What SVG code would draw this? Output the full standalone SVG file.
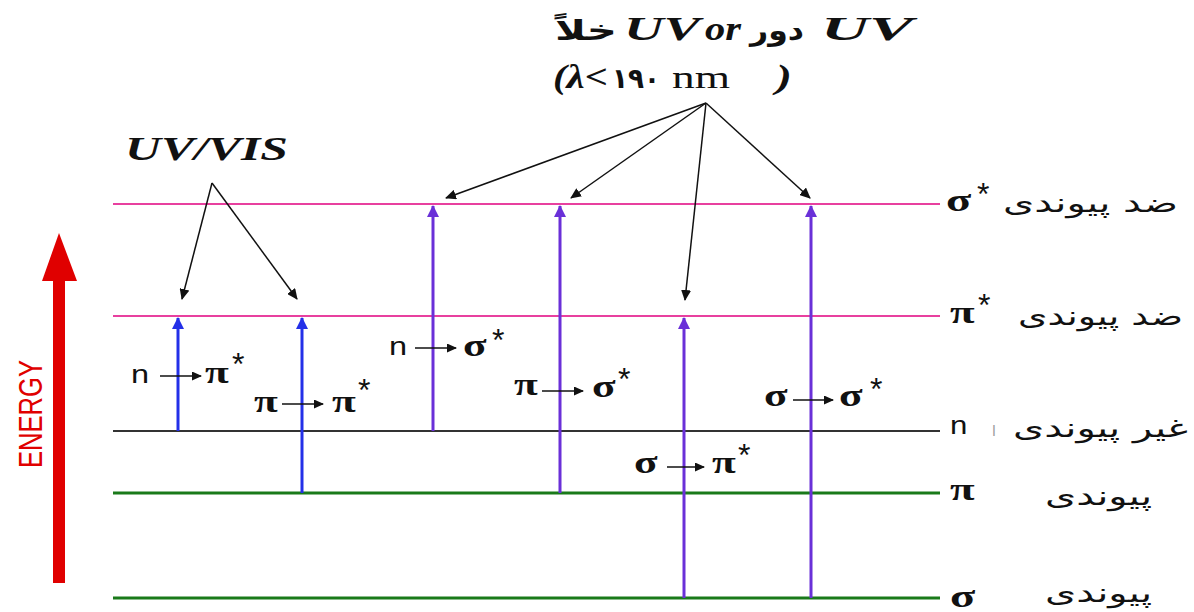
<svg xmlns="http://www.w3.org/2000/svg" width="1194" height="612" viewBox="0 0 1194 612">
<style>
.lvl{stroke-width:2;fill:none}
.pink{stroke:#e8409f}
.blk{stroke:#333}
.grn{stroke:#1a7a1a;stroke-width:3}
.blue{stroke:#2430e8;stroke-width:3;fill:none}
.purp{stroke:#6a30d8;stroke-width:3;fill:none}
.call{stroke:#111;stroke-width:1.5;fill:none}
.sym{font-family:"Liberation Serif",serif;font-weight:bold;font-size:31px;fill:#111}
.nn{font-family:"Liberation Sans",sans-serif;font-size:26px;fill:#111}
.star{font-family:"Liberation Sans",sans-serif;font-size:32px;fill:#111}
.fa{font-family:"DejaVu Sans",sans-serif;font-size:26px;fill:#111}
.ttl{font-family:"Liberation Serif",serif;font-weight:bold;font-style:italic;font-size:33px;fill:#111}
.fab{font-family:"DejaVu Sans",sans-serif;font-weight:bold;font-size:28px;fill:#111}
</style>
<defs>
<marker id="mb" markerUnits="userSpaceOnUse" markerWidth="12" markerHeight="12" refX="11" refY="6" orient="auto"><path d="M0,0 L12,6 L0,12 z" fill="#2430e8"/></marker>
<marker id="mp" markerUnits="userSpaceOnUse" markerWidth="12" markerHeight="12" refX="11" refY="6" orient="auto"><path d="M0,0 L12,6 L0,12 z" fill="#6a30d8"/></marker>
<marker id="mk" markerUnits="userSpaceOnUse" markerWidth="11" markerHeight="10" refX="10" refY="5" orient="auto"><path d="M0,0 L11,5 L0,10 z" fill="#111"/></marker>
<marker id="ms" markerUnits="userSpaceOnUse" markerWidth="10" markerHeight="9" refX="9" refY="4.5" orient="auto"><path d="M0,0 L10,4.5 L0,9 z" fill="#111"/></marker>
</defs>
<rect width="1194" height="612" fill="#fff"/>

<g id="energy">
<rect x="53" y="278" width="12" height="305" fill="#e00000"/>
<polygon points="42,281 59,233 77,281" fill="#e00000"/>
<text transform="translate(42,414) rotate(-90)" text-anchor="middle" font-family="'Liberation Sans',sans-serif" font-size="34" fill="#e00000" textLength="108" lengthAdjust="spacingAndGlyphs">ENERGY</text>
</g>

<g id="levels">
<g id="level-sigma-star"><line class="lvl pink" x1="113" y1="204" x2="940" y2="204"/>
<text class="sym" transform="translate(946,211) scale(1.5,1)">σ</text><text class="star" x="977" y="205">*</text>
<text class="fa" x="1003" y="212" textLength="175" lengthAdjust="spacingAndGlyphs">ضد پیوندی</text></g>
<g id="level-pi-star"><line class="lvl pink" x1="113" y1="316" x2="940" y2="316"/>
<text class="sym" transform="translate(950,323) scale(1.45,1)">π</text><text class="star" x="978" y="316">*</text>
<text class="fa" x="1018" y="325" textLength="165" lengthAdjust="spacingAndGlyphs">ضد پیوندی</text></g>
<g id="level-n"><line class="lvl blk" x1="113" y1="431" x2="940" y2="431"/>
<text class="nn" transform="translate(950,434) scale(1.2,1)">n</text>
<text x="992" y="436" font-family="'DejaVu Sans',sans-serif" font-size="14" fill="#999">ا</text>
<text class="fa" x="1013" y="437" textLength="175" lengthAdjust="spacingAndGlyphs">غیر پیوندی</text></g>
<g id="level-pi"><line class="lvl grn" x1="113" y1="493" x2="940" y2="493"/>
<text class="sym" transform="translate(950,500) scale(1.45,1)">π</text>
<text class="fa" x="1045" y="505" textLength="107" lengthAdjust="spacingAndGlyphs">پیوندی</text></g>
<g id="level-sigma"><line class="lvl grn" x1="113" y1="598" x2="940" y2="598"/>
<text class="sym" transform="translate(950,607) scale(1.5,1)">σ</text>
<text class="fa" x="1045" y="602" textLength="107" lengthAdjust="spacingAndGlyphs">پیوندی</text></g>
</g>

<g id="connectors">
<line class="blue" x1="178" y1="431" x2="178" y2="318" marker-end="url(#mb)"/>
<line class="blue" x1="302" y1="493" x2="302" y2="318" marker-end="url(#mb)"/>
<line class="purp" x1="433" y1="431" x2="433" y2="206" marker-end="url(#mp)"/>
<line class="purp" x1="560" y1="493" x2="560" y2="206" marker-end="url(#mp)"/>
<line class="purp" x1="684" y1="598" x2="684" y2="318" marker-end="url(#mp)"/>
<line class="purp" x1="811" y1="598" x2="811" y2="206" marker-end="url(#mp)"/>
<line class="call" x1="212" y1="183" x2="182" y2="299" marker-end="url(#mk)"/>
<line class="call" x1="212" y1="183" x2="297" y2="299" marker-end="url(#mk)"/>
<line class="call" x1="706" y1="103" x2="446" y2="198" marker-end="url(#mk)"/>
<line class="call" x1="706" y1="103" x2="571" y2="198" marker-end="url(#mk)"/>
<line class="call" x1="706" y1="103" x2="685" y2="300" marker-end="url(#mk)"/>
<line class="call" x1="706" y1="103" x2="810" y2="198" marker-end="url(#mk)"/>
</g>

<g id="label-n-pistar">
<text class="nn" transform="translate(131,383) scale(1.25,1)">n</text>
<line class="call" x1="160" y1="376" x2="201" y2="376" stroke-width="2" marker-end="url(#ms)"/>
<text class="sym" transform="translate(205,383) scale(1.4,1)">π</text><text class="star" x="232" y="375">*</text>
</g>
<g id="label-pi-pistar">
<text class="sym" transform="translate(254,412) scale(1.4,1)">π</text>
<line class="call" x1="282" y1="404" x2="323" y2="404" stroke-width="2" marker-end="url(#ms)"/>
<text class="sym" transform="translate(332,412) scale(1.4,1)">π</text><text class="star" x="358" y="401">*</text>
</g>
<g id="label-n-sigmastar">
<text class="nn" transform="translate(389,355) scale(1.25,1)">n</text>
<line class="call" x1="415" y1="348" x2="456" y2="348" stroke-width="2" marker-end="url(#ms)"/>
<text class="sym" transform="translate(463,356) scale(1.4,1)">σ</text><text class="star" x="492" y="351">*</text>
</g>
<g id="label-pi-sigmastar">
<text class="sym" transform="translate(514,395) scale(1.4,1)">π</text>
<line class="call" x1="542" y1="391" x2="583" y2="391" stroke-width="2" marker-end="url(#ms)"/>
<text class="sym" transform="translate(592,397) scale(1.4,1)">σ</text><text class="star" x="618" y="390">*</text>
</g>
<g id="label-sigma-sigmastar">
<text class="sym" transform="translate(764,406) scale(1.4,1)">σ</text>
<line class="call" x1="793" y1="400" x2="833" y2="400" stroke-width="2" marker-end="url(#ms)"/>
<text class="sym" transform="translate(839,406) scale(1.4,1)">σ</text><text class="star" x="870" y="400">*</text>
</g>
<g id="label-sigma-pistar">
<text class="sym" transform="translate(634,473) scale(1.4,1)">σ</text>
<line class="call" x1="667" y1="467" x2="704" y2="467" stroke-width="2" marker-end="url(#ms)"/>
<text class="sym" transform="translate(712,473) scale(1.4,1)">π</text><text class="star" x="738" y="466">*</text>
</g>

<g id="uvvis">
<text class="ttl" x="125" y="160" textLength="163" lengthAdjust="spacingAndGlyphs">UV/VIS</text>
</g>
<g id="uvfar">
<text class="fab" x="555" y="40" textLength="62" lengthAdjust="spacingAndGlyphs">خلاً</text>
<text class="ttl" x="624" y="40" textLength="76" lengthAdjust="spacingAndGlyphs">UV</text>
<text class="ttl" x="705" y="40" textLength="36" lengthAdjust="spacingAndGlyphs">or</text>
<text class="fab" x="750" y="40" textLength="54" lengthAdjust="spacingAndGlyphs">دور</text>
<text class="ttl" x="821" y="40" textLength="92" lengthAdjust="spacingAndGlyphs">UV</text>
<text class="ttl" x="553" y="88" textLength="55" lengthAdjust="spacingAndGlyphs">(λ&lt;</text>
<text class="fab" x="612" y="88" textLength="48" lengthAdjust="spacingAndGlyphs">۱۹۰</text>
<text x="672" y="88" font-family="'Liberation Serif',serif" font-size="32" fill="#111" textLength="58" lengthAdjust="spacingAndGlyphs">nm</text>
<text class="ttl" x="776" y="88" font-style="normal" textLength="16" lengthAdjust="spacingAndGlyphs">)</text>
</g>
</svg>
